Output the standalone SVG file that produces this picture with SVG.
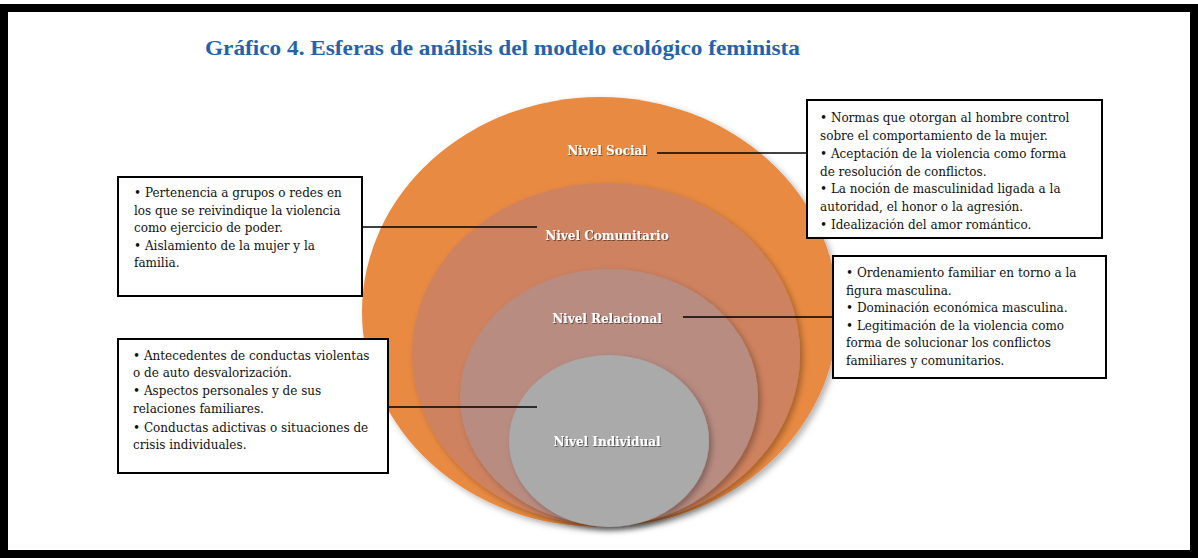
<svg xmlns="http://www.w3.org/2000/svg" width="1198" height="558" viewBox="0 0 1198 558">
  <defs>
    <filter id="sh" x="-10%" y="-10%" width="125%" height="125%">
      <feDropShadow dx="3" dy="3" stdDeviation="3" flood-color="#000" flood-opacity="0.3"/>
    </filter>
    <filter id="tsh" x="-10%" y="-30%" width="120%" height="160%">
      <feDropShadow dx="1" dy="1" stdDeviation="0.6" flood-color="#000" flood-opacity="0.45"/>
    </filter>
  </defs>
  <style>
    .title { font-family: "Liberation Serif", serif; font-weight: bold; font-size: 22px; fill: #2462ac; }
    .lbl { font-family: "DejaVu Serif", "Liberation Serif", serif; font-weight: bold; font-size: 12px; fill: #ffffff; text-anchor: middle; }
    .txt { font-family: "DejaVu Serif", "Liberation Serif", serif; font-size: 12px; fill: #111111; }
    .box { fill: #ffffff; stroke: #000000; stroke-width: 2; }
    .con { stroke: #000000; stroke-width: 1.6; fill: none; }
  </style>
  <rect x="0" y="0" width="1198" height="558" fill="#ffffff"/>
  <rect x="4" y="8" width="1190" height="546" fill="none" stroke="#000000" stroke-width="8"/>
  <text class="title" x="205" y="55" textLength="595" lengthAdjust="spacingAndGlyphs">Gráfico 4. Esferas de análisis del modelo ecológico feminista</text>

  <g id="nivel-social">
    <ellipse cx="600" cy="312" rx="238" ry="215" fill="#e98a43" filter="url(#sh)"/>
    <text class="lbl" x="607" y="155" filter="url(#tsh)">Nivel Social</text>
  </g>
  <g id="nivel-comunitario">
    <ellipse cx="606" cy="354" rx="194" ry="171" fill="#cf825e" filter="url(#sh)"/>
    <text class="lbl" x="607" y="240" filter="url(#tsh)">Nivel Comunitario</text>
  </g>
  <g id="nivel-relacional">
    <ellipse cx="609" cy="397" rx="149" ry="128" fill="#b98c82" filter="url(#sh)"/>
    <text class="lbl" x="607" y="323" filter="url(#tsh)">Nivel Relacional</text>
  </g>
  <g id="nivel-individual">
    <ellipse cx="609" cy="441" rx="100" ry="86" fill="#a9aaa9" filter="url(#sh)"/>
    <text class="lbl" x="607" y="446" filter="url(#tsh)">Nivel Individual</text>
  </g>

  <g id="connectors">
    <line class="con" x1="657" y1="153" x2="808" y2="153"/>
    <line class="con" x1="362" y1="227" x2="537" y2="227"/>
    <line class="con" x1="683" y1="317" x2="833" y2="317"/>
    <line class="con" x1="388" y1="407" x2="537" y2="407"/>
  </g>

  <g id="box-social">
    <rect class="box" x="807" y="100" width="295" height="138"/>
    <text class="txt">
      <tspan x="820" y="122">• Normas que otorgan al hombre control</tspan>
      <tspan x="820" y="140">sobre el comportamiento de la mujer.</tspan>
      <tspan x="820" y="158">• Aceptación de la violencia como forma</tspan>
      <tspan x="820" y="176">de resolución de conflictos.</tspan>
      <tspan x="820" y="193">• La noción de masculinidad ligada a la</tspan>
      <tspan x="820" y="211">autoridad, el honor o la agresión.</tspan>
      <tspan x="820" y="229">• Idealización del amor romántico.</tspan>
    </text>
  </g>

  <g id="box-comunitario">
    <rect class="box" x="118" y="177" width="244" height="119"/>
    <text class="txt">
      <tspan x="134" y="197">• Pertenencia a grupos o redes en</tspan>
      <tspan x="134" y="215">los que se reivindique la violencia</tspan>
      <tspan x="134" y="232">como ejercicio de poder.</tspan>
      <tspan x="134" y="250">• Aislamiento de la mujer y la</tspan>
      <tspan x="134" y="267">familia.</tspan>
    </text>
  </g>

  <g id="box-relacional">
    <rect class="box" x="833" y="256" width="273" height="122"/>
    <text class="txt">
      <tspan x="846" y="277">• Ordenamiento familiar en torno a la</tspan>
      <tspan x="846" y="295">figura masculina.</tspan>
      <tspan x="846" y="312">• Dominación económica masculina.</tspan>
      <tspan x="846" y="330">• Legitimación de la violencia como</tspan>
      <tspan x="846" y="347">forma de solucionar los conflictos</tspan>
      <tspan x="846" y="365">familiares y comunitarios.</tspan>
    </text>
  </g>

  <g id="box-individual">
    <rect class="box" x="118" y="339" width="270" height="134"/>
    <text class="txt">
      <tspan x="133" y="360">• Antecedentes de conductas violentas</tspan>
      <tspan x="133" y="377">o de auto desvalorización.</tspan>
      <tspan x="133" y="395">• Aspectos personales y de sus</tspan>
      <tspan x="133" y="413">relaciones familiares.</tspan>
      <tspan x="133" y="432">• Conductas adictivas o situaciones de</tspan>
      <tspan x="133" y="449">crisis individuales.</tspan>
    </text>
  </g>
</svg>
